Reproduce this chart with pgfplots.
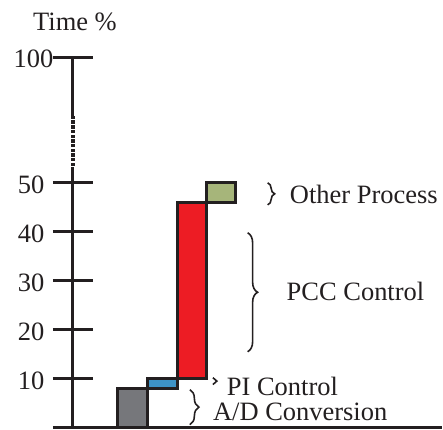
\documentclass[border=0pt]{standalone}
\usepackage{fontspec}
\setmainfont{Liberation Serif}
\usepackage{pgfplots}
\pgfplotsset{compat=1.18}
\usetikzlibrary{decorations.pathreplacing}

\definecolor{ink}{HTML}{231F20}
\definecolor{adgray}{HTML}{76777B}
\definecolor{piblue}{HTML}{3D93C6}
\definecolor{pccred}{HTML}{ED1C24}
\definecolor{othgreen}{HTML}{A6B57A}
\newcommand\lbl{\fontsize{26.5}{30}\selectfont}

\begin{document}
\begin{tikzpicture}
\begin{axis}[
    scale only axis, width=389pt, height=371pt,
    xmin=-0.678, xmax=12.51, ymin=0, ymax=75.7,
    axis line style={draw=none},
    xtick=\empty,
    ytick={10,20,30,40,50,75.7},
    yticklabels={10,20,30,40,50,100\kern-9pt},
    ytick pos=left, tick align=inside, major tick length=40pt,
    every tick/.style={ink, line width=3pt},
    tick label style={font=\lbl, text=ink},
    yticklabel style={xshift=-5pt, yshift=-2pt},
    clip=false,
]
% page extent
\path (axis cs:-2.475,-0.2) rectangle (axis cs:12.54,87.35);

% waterfall of the loop time
\addplot[fill=adgray, draw=ink, line width=3pt] coordinates {(1.53,0) (2.54,0) (2.54,8) (1.53,8)} -- cycle;
\addplot[fill=piblue, draw=ink, line width=3pt] coordinates {(2.54,8) (3.56,8) (3.56,10) (2.54,10)} -- cycle;
\addplot[fill=pccred, draw=ink, line width=3pt] coordinates {(3.56,10) (4.54,10) (4.54,46) (3.56,46)} -- cycle;
\addplot[fill=othgreen, draw=ink, line width=3pt] coordinates {(4.54,46) (5.53,46) (5.53,50) (4.54,50)} -- cycle;

% axes, with the break in the y axis
\draw[draw=ink, line width=3pt] (rel axis cs:0,0) -- (rel axis cs:1,0);
\draw[draw=ink, line width=3pt] (axis cs:0,0) -- (axis cs:0,53.3);
\pgfplotsinvokeforeach{0,...,10}{
  \fill[ink] (axis cs:-0.065,{53.4+#1*0.96}) rectangle (axis cs:0.065,{54.1+#1*0.96});
}
\draw[draw=ink, line width=3pt] (axis cs:0,63.5) -- (axis cs:0,75.7);

\node[font=\lbl, text=ink] at (axis cs:0.07,82.8) {Time \%};

% braces and names
\draw[draw=ink, line width=1.6pt, decorate, decoration={brace, amplitude=7pt}] (axis cs:6.61,50) -- (axis cs:6.61,45.5);
\draw[draw=ink, line width=1.6pt, decorate, decoration={brace, amplitude=10pt}] (axis cs:5.93,39.8) -- (axis cs:5.93,15.5);
\draw[draw=ink, line width=1.6pt, decorate, decoration={brace, amplitude=4pt}] (axis cs:4.75,10.2) -- (axis cs:4.75,8.8);
\draw[draw=ink, line width=1.6pt, decorate, decoration={brace, amplitude=9pt}] (axis cs:3.97,7.75) -- (axis cs:3.97,0.6);

\node[font=\lbl, text=ink, anchor=west, inner sep=0pt] at (axis cs:7.36,47.55) {Other Process};
\node[font=\lbl, text=ink, anchor=west, inner sep=0pt] at (axis cs:7.25,27.75) {PCC Control};
\node[font=\lbl, text=ink, anchor=west, inner sep=0pt] at (axis cs:5.22,8.4) {PI Control};
\node[font=\lbl, text=ink, anchor=west, inner sep=0pt] at (axis cs:4.75,3.27) {A/D Conversion};
\end{axis}
\end{tikzpicture}
\end{document}
